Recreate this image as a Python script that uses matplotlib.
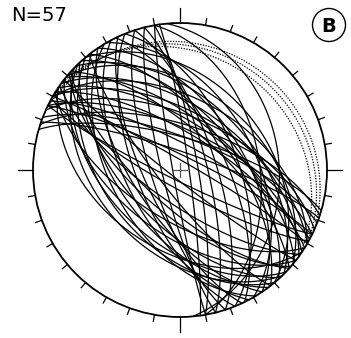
import numpy as np
import matplotlib.pyplot as plt
from matplotlib.patches import Circle

# Fault planes as (strike, dip), right-hand rule
strikes_dotted = [300, 294, 306]
dips_dotted = [18, 15, 22]

# NE / E dipping planes
strikes_ne = [286, 289, 288, 291, 294, 296, 298, 300, 302, 304, 306, 309, 312, 315, 318, 322, 326,
              330, 334, 338, 342, 346, 350, 352, 355, 350, 296, 300, 310, 320, 300]
dips_ne = [72, 80, 65, 72, 60, 68, 76, 58, 70, 64, 55, 62, 68, 50, 58, 62, 55,
           48, 65, 58, 70, 75, 80, 85, 33, 45, 82, 50, 45, 40, 85]

# SW / W dipping planes
strikes_sw = [116, 119, 122, 125, 128, 131, 134, 137, 140, 143, 146, 149, 152,
              155, 158, 162, 166, 170, 124, 136, 142, 128, 132]
dips_sw = [84, 80, 62, 72, 55, 66, 50, 60, 48, 56, 64, 52, 60,
           70, 66, 74, 80, 86, 45, 44, 78, 85, 70]

strikes = strikes_ne + strikes_sw
dips = dips_ne + dips_sw

R = 1.0


def great_circle(strike, dip, n=181):
    dd = np.radians(strike + 90)
    beta = np.linspace(-np.pi / 2, np.pi / 2, n)
    plunge = np.arctan(np.tan(np.radians(dip)) * np.cos(beta))
    trend = dd + beta
    r = R * np.sqrt(2) * np.sin((np.pi / 2 - plunge) / 2)
    return r * np.sin(trend), r * np.cos(trend)


fig = plt.figure(figsize=(3.51, 3.38), dpi=100)
ax = fig.add_axes([0, 0, 1, 1])
ax.set_xlim(-180 / 147, 171 / 147)
ax.set_ylim(-168 / 147, 170 / 147)
ax.axis('off')

for s, d in zip(strikes, dips):
    x, y = great_circle(s, d)
    ax.plot(x, y, color='black', lw=0.9)

for s, d in zip(strikes_dotted, dips_dotted):
    x, y = great_circle(s, d)
    ax.plot(x, y, color='black', lw=0.9, linestyle=(0, (1, 1.2)))

# primitive circle and ticks
ax.add_patch(Circle((0, 0), R, fill=False, lw=1.3, color='black'))
for az in range(0, 360, 10):
    a = np.radians(az)
    ln = 0.105 if az % 90 == 0 else 0.045
    ax.plot([np.sin(a) * R, np.sin(a) * (R + ln)],
            [np.cos(a) * R, np.cos(a) * (R + ln)], color='black', lw=0.9)

# centre cross
c = 0.05
ax.plot([-c, c], [0, 0], color='#555555', lw=0.9)
ax.plot([0, 0], [-c, c], color='#555555', lw=0.9)

fig.text(11 / 351, 1 - 6 / 338, 'N=57', fontsize=14, va='top', ha='left')
ax.add_patch(Circle((149 / 147, 145 / 147), 16.5 / 147, fill=False, lw=1.0, color='black'))
ax.text(149 / 147, 144 / 147, 'B', fontsize=14, fontweight='bold', ha='center', va='center')

fig.savefig('out.png', dpi=100)
